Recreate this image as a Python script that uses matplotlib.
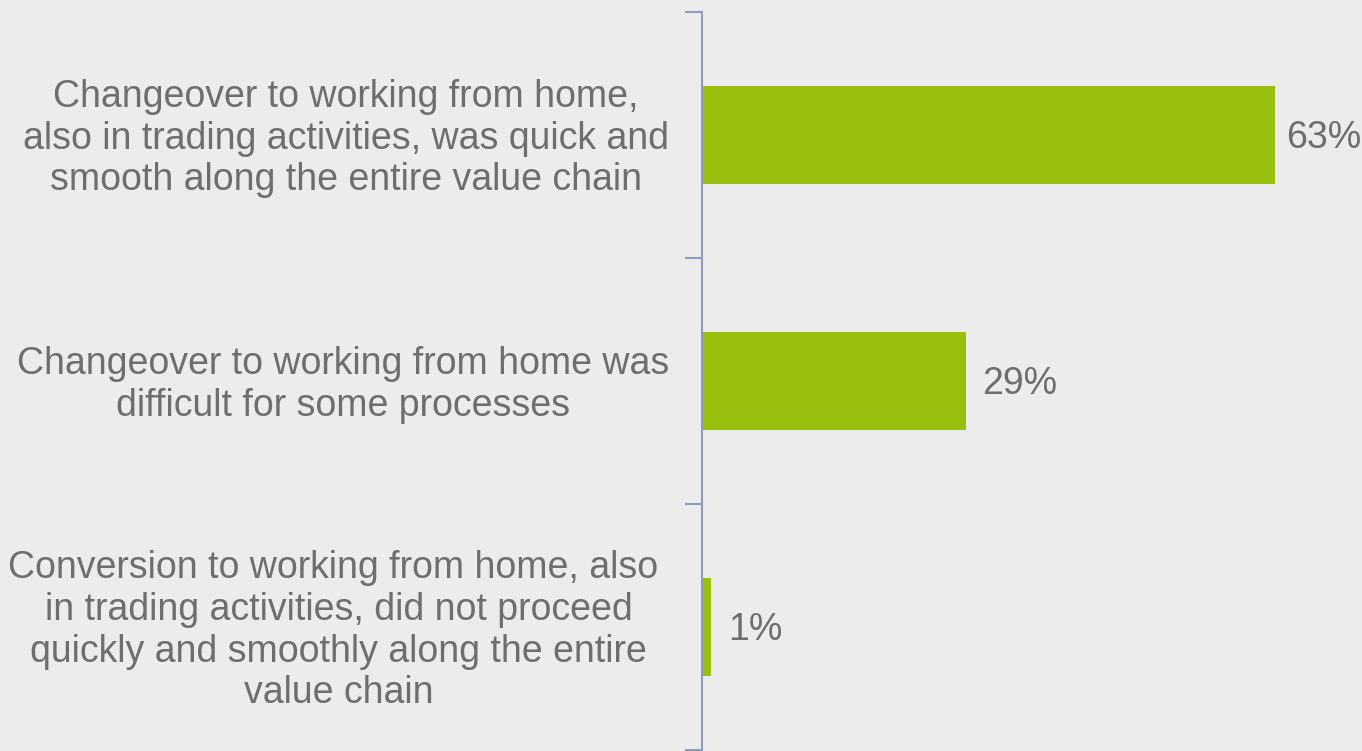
import matplotlib.pyplot as plt
import matplotlib.transforms as mtransforms

# survey answers, top to bottom
answers = [
    "Changeover to working from home,\nalso in trading activities, was quick and\nsmooth along the entire value chain",
    "Changeover to working from home was\ndifficult for some processes",
    "Conversion to working from home, also \nin trading activities, did not proceed\nquickly and smoothly along the entire\nvalue chain",
]
shares = [63, 29, 1]

bg = '#ececec'
green = '#98bf0e'
grey_txt = '#6e6e6e'
axis_col = '#8c9dbb'

plt.rcParams['font.family'] = ['Liberation Sans', 'DejaVu Sans']

fig = plt.figure(figsize=(13.62, 7.51), dpi=100, facecolor=bg)
ax = fig.add_axes([702 / 1362, 1 / 751, (1339 - 702) / 1362, 738 / 751])
ax.set_facecolor(bg)

pos = list(range(len(shares)))
ax.barh(pos, shares, height=0.4, color=green, zorder=2)
ax.set_ylim(len(shares) - 0.5, -0.5)
ax.set_xlim(0, 70)

# value labels; the longest bar's label is pulled in a bit so it fits
gaps = [8, 12, 12]
for y, v, g in zip(pos, shares, gaps):
    ax.annotate(f'{v}%', (v, y), xytext=(g, -9.7), textcoords='offset points',
                va='baseline', ha='left', fontsize=27, color=grey_txt,
                annotation_clip=False)

ax.set_yticks(pos)
ax.set_yticklabels(answers, fontsize=27, color=grey_txt, multialignment='center',
                   linespacing=1.2)
ax.set_yticks([p - 0.5 for p in pos] + [len(shares) - 0.5], minor=True)
ax.tick_params(axis='y', which='major', length=0, pad=23.8)
ax.tick_params(axis='y', which='minor', length=12, width=1.5, color=axis_col)
ax.set_xticks([])

# nudge the answer texts up a little so their middle sits on the bar
lift = mtransforms.ScaledTranslation(0, 3 / 100, fig.dpi_scale_trans)
for lbl in ax.get_yticklabels():
    lbl.set_transform(lbl.get_transform() + lift)

for side in ['top', 'right', 'bottom']:
    ax.spines[side].set_visible(False)
ax.spines['left'].set_color(axis_col)
ax.spines['left'].set_linewidth(1.5)

fig.savefig('out.png', dpi=100, facecolor=bg)
